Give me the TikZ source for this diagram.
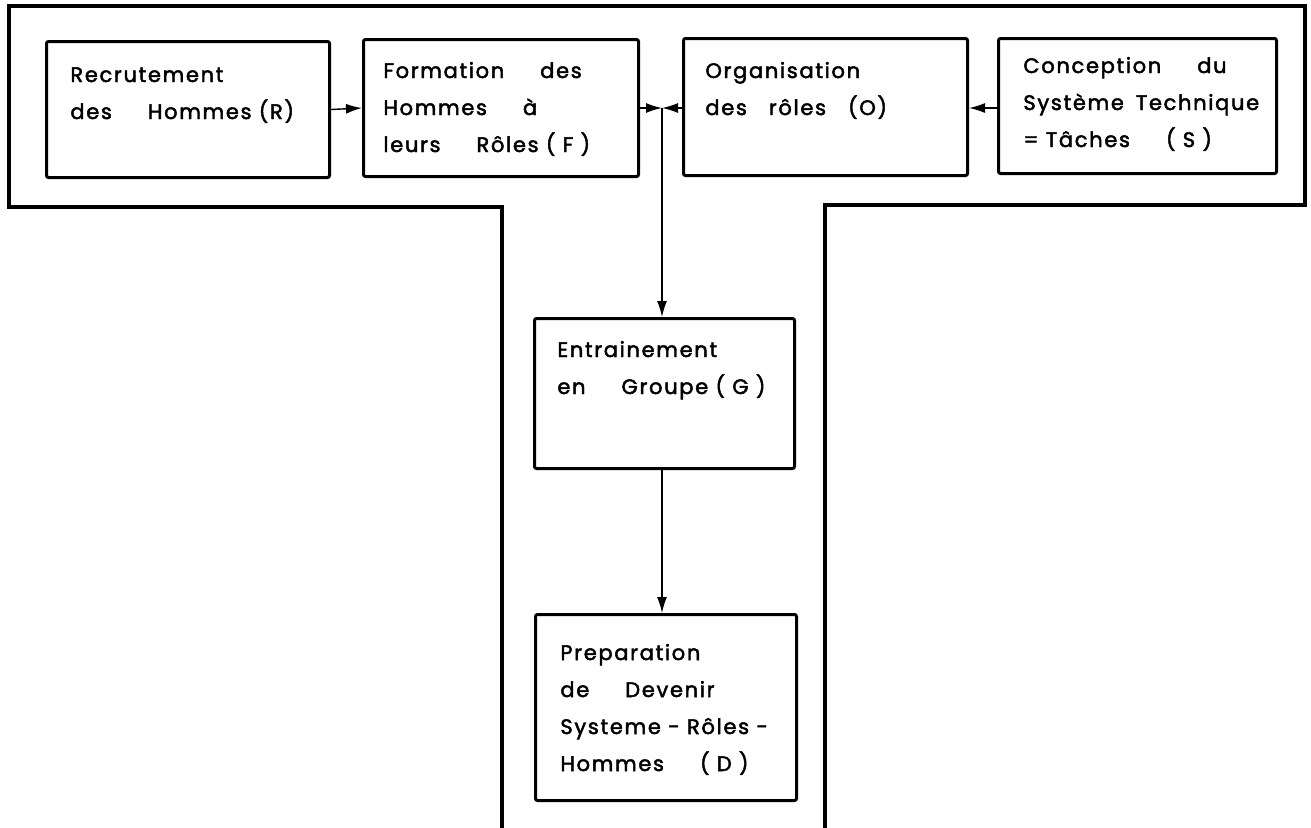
\documentclass[tikz,border=0pt]{standalone}
\usepackage{fontspec}
\setmainfont{Poppins}[LetterSpace=8, FakeBold=2.2]
\usetikzlibrary{arrows.meta}
\newcommand\gap{\hspace{18pt}}
\newcommand\mgap{\hspace{11pt}}
\newcommand\boxlines[1]{\vtop{\halign{##\hfil\cr#1\crcr}}}
\tikzset{
  frame/.style={line width=2.2pt, line join=miter},
  box/.style={draw, line width=1.5pt, rounded corners=1pt, anchor=north west, inner sep=0pt},
  txt/.style={anchor=base west, inner sep=0pt, font=\fontsize{10.5}{18.5}\selectfont},
  arr/.style={line width=0.7pt, -{Latex[length=8pt,width=5pt]}}
}
\begin{document}
\begin{tikzpicture}[x=0.5pt,y=-0.5pt]
\useasboundingbox (0,0) rectangle (1311,827);
% T-shaped frame
\draw[frame] (502,828) -- (502,207) -- (9,207) -- (9,6) -- (1305,6) -- (1305,205) -- (825,205) -- (825,828);
% boxes
\node[box, minimum width=141.5pt, minimum height=68pt] (R) at (45,40) {};
\node[box, minimum width=137.5pt, minimum height=68.5pt] (F) at (362,38) {};
\node[box, minimum width=142pt, minimum height=68.5pt] (O) at (682,37) {};
\node[box, minimum width=139pt, minimum height=67.5pt] (S) at (997,37) {};
\node[box, minimum width=130pt, minimum height=75pt] (G) at (533,317) {};
\node[box, minimum width=130.5pt, minimum height=93pt] (D) at (534,613) {};
% texts
\node[txt] (Rt) at ([xshift=12.5pt,yshift=-21pt]R.north west) {\boxlines{Recrutement\cr des\gap Hommes (R)}};
\node[txt] (Ft) at ([xshift=10.5pt,yshift=-20pt]F.north west) {\boxlines{Formation\gap des\cr Hommes\gap à\cr leurs\gap Rôles ( F )}};
\node[txt] (Ot) at ([xshift=11.5pt,yshift=-20.5pt]O.north west) {\boxlines{Organisation\cr des\mgap rôles\mgap (O)}};
\node[txt] (St) at ([xshift=13pt,yshift=-18pt]S.north west) {\boxlines{Conception\gap du\cr Système\hspace{6pt}Technique\cr = Tâches\gap ( S )}};
\node[txt] (Gt) at ([xshift=12pt,yshift=-20pt]G.north west) {\boxlines{Entrainement\cr en\gap Groupe ( G )}};
\node[txt] (Dt) at ([xshift=13pt,yshift=-23.5pt]D.north west) {\boxlines{Preparation\cr de\gap Devenir\cr Systeme - Rôles -\cr Hommes\gap ( D )}};
% connectors
\coordinate (J) at (662,108);
\draw[arr] (R.east) -- (F.west);
\draw[arr] (F.east |- J) -- (J);
\draw[arr] (O.west |- J) -- (J);
\draw[arr] (S.west |- J) -- (O.east |- J);
\draw[arr] (J) -- (J |- G.north);
\draw[arr] (J |- G.south) -- (J |- D.north);
\end{tikzpicture}
\end{document}
